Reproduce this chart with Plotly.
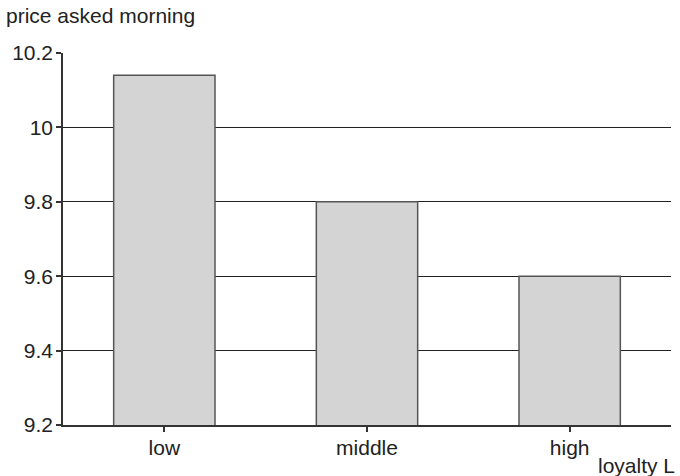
import plotly.graph_objects as go

categories = ["low", "middle", "high"]
values = [10.14, 9.80, 9.60]
y_ticks = [9.2, 9.4, 9.6, 9.8, 10.0, 10.2]
y_tick_labels = ["9.2", "9.4", "9.6", "9.8", "10", "10.2"]

FONT = "Liberation Sans, Arial, Helvetica, sans-serif"
TXT = "#222222"
FS = 21

fig = go.Figure()
fig.add_trace(go.Bar(
    x=categories, y=values,
    marker=dict(color="#d4d4d4", line=dict(color="#555555", width=1.5)),
    width=0.5,
))

L, R, T, B = 63, 8.5, 53, 51
PW, PH = 680 - L - R, 476 - T - B
fig.update_layout(
    width=680, height=476,
    margin=dict(l=L, r=R, t=T, b=B, autoexpand=False),
    paper_bgcolor="white", plot_bgcolor="white",
    showlegend=False,
    font=dict(family=FONT, size=FS, color=TXT),
    xaxis=dict(
        showline=True, linecolor="#333333", linewidth=1.5,
        ticks="outside", ticklen=5, tickcolor="#333333", tickwidth=1.5,
        showgrid=False, zeroline=False, automargin=False, ticklabelstandoff=-2,
        tickfont=dict(family=FONT, size=FS, color=TXT),
    ),
    yaxis=dict(
        range=[9.2, 10.2],
        tickvals=y_ticks, ticktext=y_tick_labels,
        showline=True, linecolor="#333333", linewidth=1.5,
        ticks="outside", ticklen=5, tickcolor="#333333", tickwidth=1.5,
        showgrid=True, gridcolor="#222222", gridwidth=1.2,
        zeroline=False, automargin=False, ticklabelstandoff=-1,
        tickfont=dict(family=FONT, size=FS, color=TXT),
    ),
    annotations=[
        dict(text="price asked morning", xref="paper", yref="paper",
             x=(4 - L) / PW, y=(T - 15) / PH + 1,
             xanchor="left", yanchor="middle", showarrow=False,
             font=dict(family=FONT, size=FS, color=TXT)),
        dict(text="loyalty L", xref="paper", yref="paper",
             x=(678 - L) / PW, y=-(466 - (476 - B)) / PH,
             xanchor="right", yanchor="middle", showarrow=False,
             font=dict(family=FONT, size=FS, color=TXT)),
    ],
)

fig.write_html("out.html", config={"displayModeBar": False},
               post_script="document.body.style.margin='0';document.body.style.overflow='hidden';")
